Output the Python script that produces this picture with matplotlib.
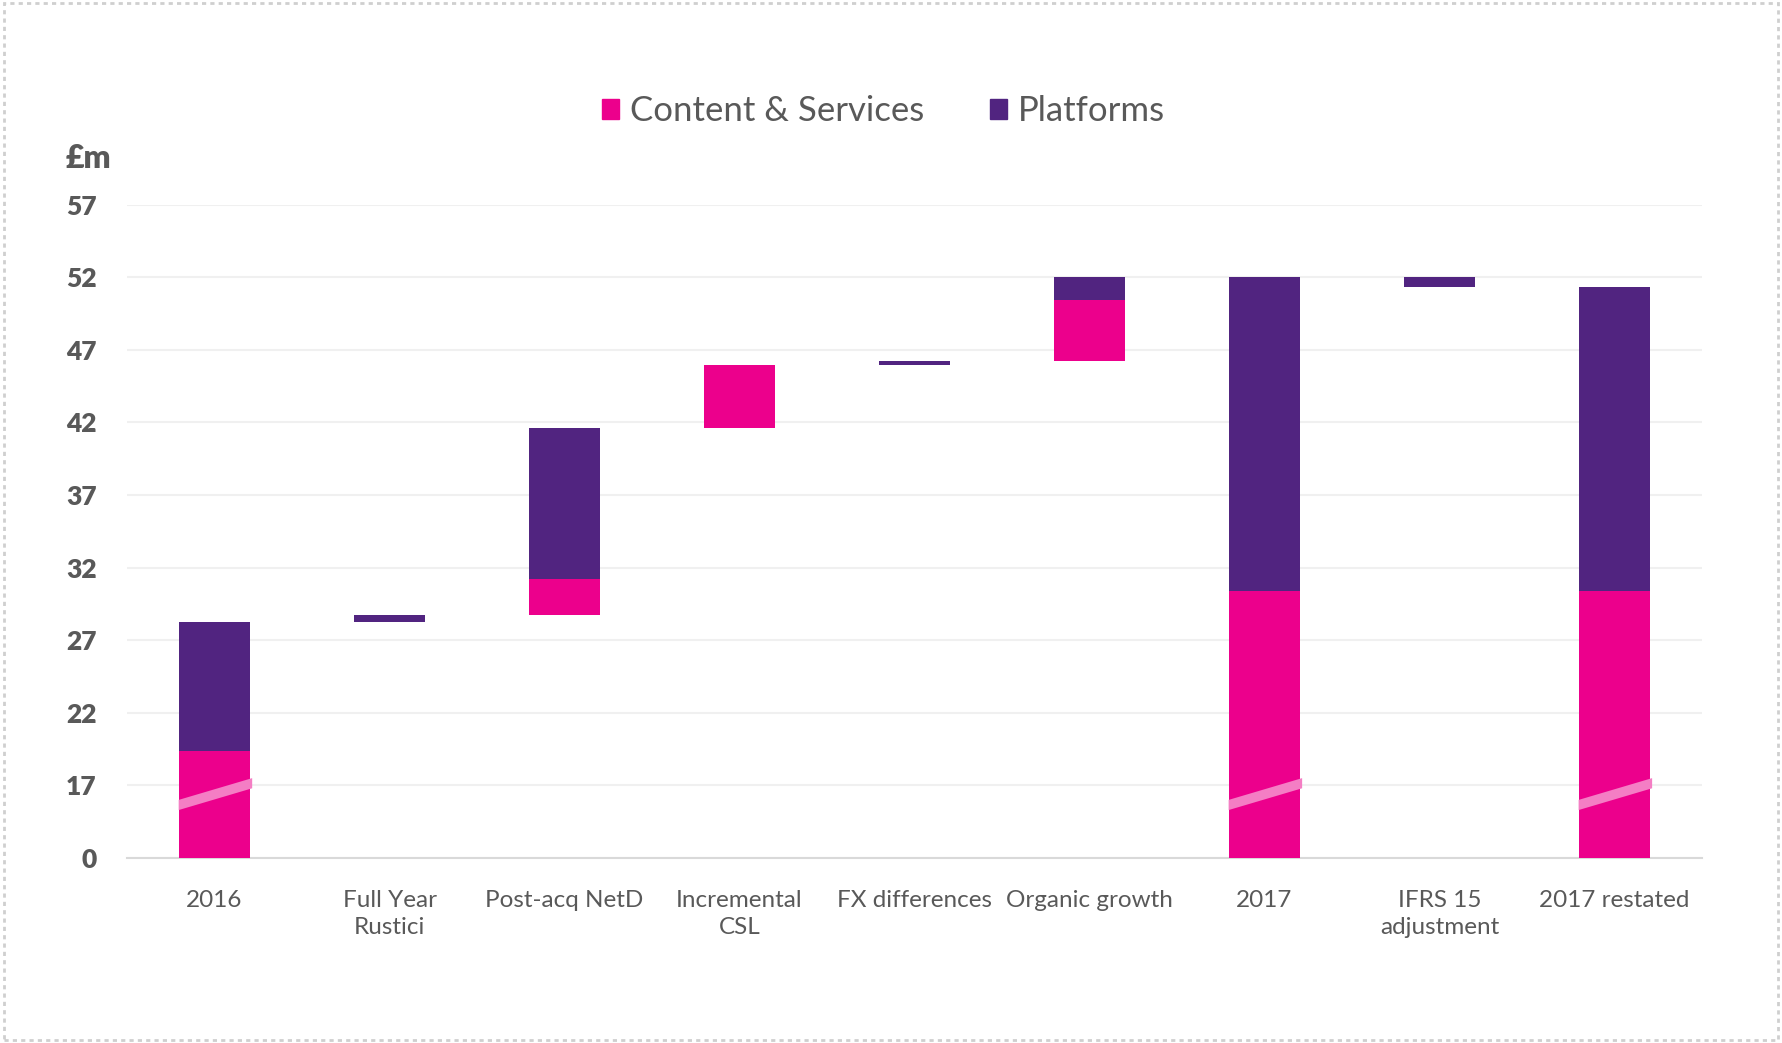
import numpy as np
import matplotlib
matplotlib.use('Agg')
import matplotlib.pyplot as plt
from matplotlib.patches import Patch, Polygon, Rectangle

# данные (£m)
categories = ['2016', 'Full Year\nRustici', 'Post-acq NetD', 'Incremental\nCSL', 'FX differences',
              'Organic growth', '2017', 'IFRS 15\nadjustment', '2017 restated']
is_total = [True, False, False, False, False, False, True, False, True]
content = [19.4, 0, 2.45, 4.35, 0, 4.15, 30.4, 0, 30.4]
platforms = [8.85, 0.5, 10.4, 0, 0.3, 1.65, 21.65, -0.7, 20.95]
tick_vals = [0, 17, 22, 27, 32, 37, 42, 47, 52, 57]

PINK = '#EC008C'
PURPLE = '#512480'
STRIPE = '#F47EC4'
GREY = '#595959'
FONT = ['Lato', 'DejaVu Sans']

plt.rcParams['font.family'] = FONT


def yt(v):
    # разрыв оси: 0..17 сжато в одну клетку
    v = np.asarray(v, dtype=float)
    return np.where(v >= 17, v, 12 + v * 5.0 / 17.0)


fig = plt.figure(figsize=(17.82, 10.43), dpi=100)
ax = fig.add_axes([0.0713, 0.1774, 0.8838, 0.6264])

W = 0.41
running = 0.0
for i, cat in enumerate(categories):
    base = 0.0 if is_total[i] else running
    c_top = base + content[i]
    p_top = c_top + platforms[i]
    if content[i] != 0:
        ax.bar(i, yt(c_top) - yt(base), bottom=yt(base), width=W, color=PINK, zorder=3)
    if platforms[i] != 0:
        ax.bar(i, yt(p_top) - yt(c_top), bottom=yt(c_top), width=W, color=PURPLE, zorder=3)
    running = p_top
    if is_total[i]:
        x0, x1 = i - W / 2, i + W / 2 + 0.01
        poly = Polygon([(x0, 15.3), (x1, 16.8), (x1, 17.5), (x0, 16.0)],
                       closed=True, color=STRIPE, zorder=4, lw=0)
        ax.add_patch(poly)

ax.set_xlim(-0.5, 8.5)
ax.set_ylim(12, 57)
ax.set_yticks(yt(tick_vals))
ax.set_yticklabels([str(v) for v in tick_vals], fontsize=19, fontweight='heavy', color=GREY)
ax.set_xticks(range(len(categories)))
ax.set_xticklabels(categories, fontsize=17.5, color=GREY, linespacing=1.35)
ax.tick_params(axis='both', length=0)
ax.tick_params(axis='x', pad=23)
ax.tick_params(axis='y', pad=22)
ax.grid(axis='y', color='#F0F0F0', lw=1.5, zorder=0)
for s in ['top', 'right', 'left']:
    ax.spines[s].set_visible(False)
ax.spines['bottom'].set_color('#D9D9D9')
ax.spines['bottom'].set_linewidth(1.5)

fig.text(0.0494, 0.848, '£m', fontsize=23, fontweight='heavy', color=GREY, ha='center', va='center')

handles = [Patch(color=PINK), Patch(color=PURPLE)]
fig.legend(handles, ['Content & Services', 'Platforms'], loc='center',
           bbox_to_anchor=(0.4957, 0.8936), ncol=2, frameon=False, fontsize=25,
           handlelength=0.5, handleheight=0.5, handletextpad=0.3, columnspacing=1.9,
           labelcolor=GREY)

# пунктирная рамка
fig.patches.append(Rectangle((0.002, 0.003), 0.996, 0.994, transform=fig.transFigure,
                             fill=False, ec='#CFCFCF', lw=2, ls=(0, (1.5, 1.5))))

plt.savefig('out.png', dpi=100)
